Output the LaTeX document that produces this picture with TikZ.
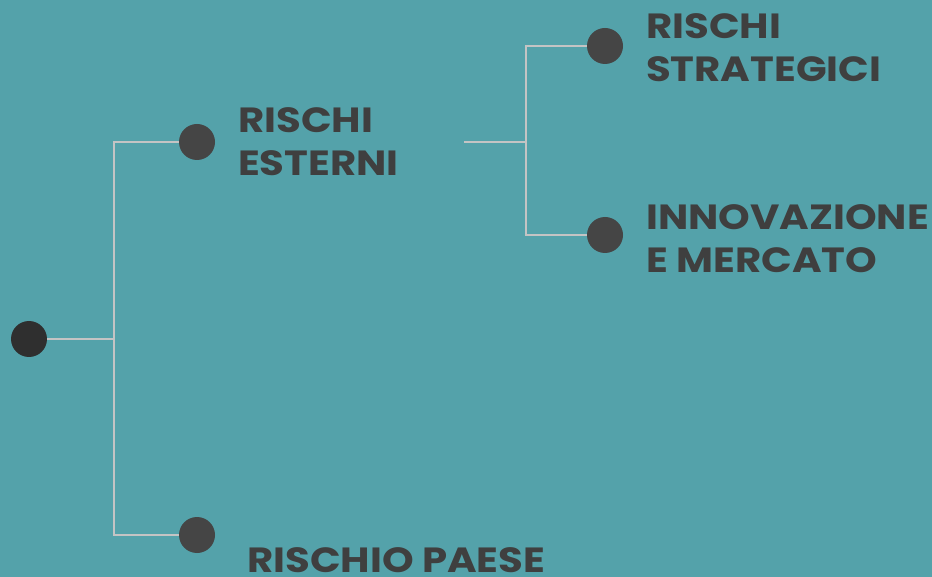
\documentclass[tikz,border=0pt]{standalone}
\usepackage{fontspec}
\newfontfamily\branchfont{Poppins}[FakeStretch=1.15]
\definecolor{tealbg}{HTML}{54A2AA}
\definecolor{dotgray}{HTML}{454545}
\definecolor{rootgray}{HTML}{2F2F2F}
\definecolor{textgray}{HTML}{3F3F3F}
\definecolor{linegray}{HTML}{C4C4C4}

\begin{document}
\begin{tikzpicture}[x=1pt, y=-1pt, line cap=butt, line join=miter]

% --- Stili ---
\tikzset{
    branch/.style={
        draw=linegray,
        line width=2pt
    },
    rootdot/.style={
        circle,
        fill=rootgray,
        minimum size=36pt,
        inner sep=0pt
    },
    leafdot/.style={
        circle,
        fill=dotgray,
        minimum size=36pt,
        inner sep=0pt
    },
    leaflabel/.style={
        anchor=base west,
        text=textgray,
        align=left,
        inner sep=0pt,
        font=\branchfont\bfseries\fontsize{35}{43}\selectfont
    }
}

% --- Sfondo ---
\fill[tealbg] (0,0) rectangle (932,577);
\useasboundingbox (0,0) rectangle (932,577);

% --- Punti ---
\node[rootdot] (root) at (29,339) {};
\node[leafdot] (esterni) at (197,142) {};
\node[leafdot] (paese) at (197,535) {};
\node[leafdot] (strategici) at (605,46) {};
\node[leafdot] (mercato) at (605,235) {};

% --- Snodi ---
\coordinate (fork1) at (114,339);
\coordinate (fork2) at (526,142);
\coordinate (stub) at (464,142);

% --- Rami ---
\draw[branch] (root) -- (fork1);
\draw[branch] (esterni.west) -| (fork1) |- (paese.west);
\draw[branch] (stub) -- (fork2);
\draw[branch] (strategici.west) -| (fork2) |- (mercato.west);

% --- Etichette (base = ultima riga) ---
\node[leaflabel] (lblesterni) at (238,176) {RISCHI\\ESTERNI};
\node[leaflabel] (lblpaese) at (247,572) {RISCHIO PAESE};
\node[leaflabel] (lblstrategici) at (646,82) {RISCHI\\STRATEGICI};
\node[leaflabel] (lblmercato) at (646,273) {INNOVAZIONE\\E MERCATO};

\end{tikzpicture}
\end{document}
